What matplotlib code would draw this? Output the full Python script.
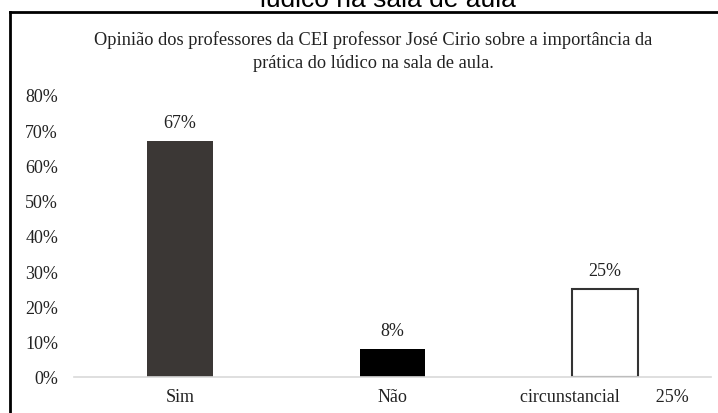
import matplotlib
matplotlib.use("Agg")
import matplotlib.pyplot as plt
from matplotlib.lines import Line2D

categories = ["Sim", "Não", "circunstancial        25%"]
values = [0.67, 0.08, 0.25]
value_labels = ["67%", "8%", "25%"]
yticks = [0, 0.1, 0.2, 0.3, 0.4, 0.5, 0.6, 0.7, 0.8]
ytick_labels = ["0%", "10%", "20%", "30%", "40%", "50%", "60%", "70%", "80%"]
title = ("Opinião dos professores da CEI professor José Cirio sobre a importância da\n"
         "prática do lúdico na sala de aula.")
top_cut_text = "lúdico na sala de aula"

fig = plt.figure(figsize=(7.18, 4.14), dpi=100)
fig.patch.set_facecolor("white")
ax = fig.add_axes([74/718, 1-378/414, (711-74)/718, (378-96)/414])

serif = ["Liberation Serif", "DejaVu Serif"]
fs = 13
x = list(range(len(categories)))
colors = ["#3b3735", "#000000", "#ffffff"]
edges = ["#3b3735", "#000000", "#333333"]
lws = [0, 0, 1.5]
bars = ax.bar(x, values, width=0.31, color=colors, edgecolor=edges, linewidth=lws)
for xi, v, lab in zip(x, values, value_labels):
    ax.annotate(lab, (xi, v), xytext=(0, 10), textcoords="offset points",
                ha="center", va="baseline", fontsize=fs, family=serif, color="#222222")

ax.set_xlim(-0.5, 2.5)
ax.set_ylim(0, 0.8)
ax.set_yticks(yticks)
ax.set_yticklabels(ytick_labels, family=serif, fontsize=fs, color="#222222")
ax.set_xticks(x)
ax.set_xticklabels(categories, family=serif, fontsize=fs, color="#222222")
ax.tick_params(axis="both", length=0)
ax.tick_params(axis="y", pad=11.5)
ax.tick_params(axis="x", pad=8)
for s in ["top", "right", "left"]:
    ax.spines[s].set_visible(False)
ax.spines["bottom"].set_color("#d9d9d9")
ax.spines["bottom"].set_linewidth(1.2)

fig.text(373/718, 1-51.5/414, title, ha="center", va="center", fontsize=13.2,
         family=serif, color="#222222", linespacing=1.45)
fig.text(388/718, 1-7/414, top_cut_text, ha="center", va="baseline",
         fontsize=19, family=["Liberation Sans", "DejaVu Sans"], color="#000000")

fig.add_artist(Line2D([10/718, 10/718], [0, 1-13/414], transform=fig.transFigure,
                      color="black", linewidth=2))
fig.add_artist(Line2D([10/718, 1], [1-13/414, 1-13/414], transform=fig.transFigure,
                      color="black", linewidth=2))

fig.savefig("out.png", dpi=100)
